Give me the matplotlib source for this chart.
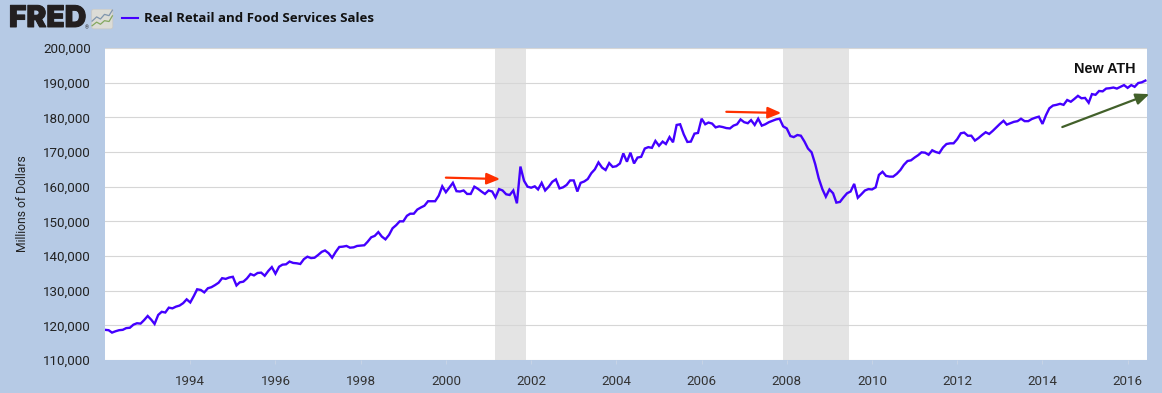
import numpy as np
import pandas as pd
import matplotlib
matplotlib.use('Agg')
import matplotlib.pyplot as plt
import matplotlib.dates as mdates
import matplotlib.patheffects as pe
from matplotlib.patches import FancyBboxPatch

# monthly values, billions of dollars
y1992 = [118.7, 118.6, 117.9, 118.3, 118.6, 118.7, 119.2, 119.3, 120.2, 120.6, 120.5, 121.5]
y1993 = [122.7, 121.6, 120.4, 123.0, 123.9, 123.7, 125.1, 124.9, 125.4, 125.7, 126.4, 127.5]
y1994 = [126.6, 128.5, 130.4, 130.2, 129.5, 130.7, 131.0, 131.6, 132.3, 133.6, 133.4, 133.8]
y1995 = [134.0, 131.5, 132.4, 132.6, 133.5, 134.8, 134.4, 135.1, 135.2, 134.3, 135.7, 136.8]
y1996 = [134.9, 136.9, 137.5, 137.6, 138.4, 138.0, 137.9, 137.7, 139.1, 139.8, 139.4, 139.5]
y1997 = [140.3, 141.2, 141.6, 140.8, 139.5, 141.2, 142.6, 142.7, 142.9, 142.4, 142.5, 142.9]
y1998 = [143.0, 143.1, 144.1, 145.4, 145.8, 146.9, 145.6, 144.8, 146.1, 148.0, 148.9, 150.0]
y1999 = [150.0, 151.6, 152.2, 152.2, 153.4, 154.0, 154.5, 155.8, 155.8, 155.8, 157.4, 160.1]
y2000 = [158.4, 159.8, 161.1, 158.7, 158.6, 158.9, 157.9, 157.9, 160.0, 159.4, 158.6, 157.9]
y2001 = [158.9, 158.6, 156.9, 159.3, 158.9, 157.8, 157.6, 158.9, 155.2, 165.8, 161.7, 160.0]
y2002 = [159.7, 160.1, 159.2, 161.1, 158.9, 160.0, 161.4, 162.1, 159.5, 159.8, 160.5, 161.8]
y2003 = [161.8, 158.6, 161.1, 161.5, 162.2, 163.9, 165.0, 167.0, 165.5, 164.8, 166.8, 165.7]
y2004 = [165.9, 166.7, 169.6, 167.2, 169.8, 166.7, 168.4, 168.6, 171.0, 171.4, 171.2, 173.2]
y2005 = [171.8, 173.0, 172.3, 174.3, 172.8, 177.8, 178.0, 175.1, 172.9, 173.0, 175.3, 175.5]
y2006 = [179.6, 178.0, 178.5, 178.2, 177.1, 177.4, 177.2, 176.9, 176.8, 177.6, 178.0, 179.4]
y2007 = [178.6, 178.3, 179.2, 177.8, 179.6, 177.6, 178.0, 178.6, 179.0, 179.4, 179.6, 177.4]
y2008 = [176.8, 174.6, 174.3, 174.9, 174.7, 173.0, 171.0, 169.9, 166.5, 162.4, 159.3, 157.1]
y2009 = [159.2, 158.1, 155.4, 155.6, 156.9, 158.1, 158.6, 160.8, 156.8, 157.8, 158.9, 159.3]
y2010 = [159.2, 159.8, 163.4, 164.3, 163.1, 162.9, 162.9, 163.7, 164.8, 166.3, 167.4, 167.6]
y2011 = [168.4, 169.1, 169.9, 169.8, 169.2, 170.5, 170.0, 169.7, 171.3, 172.3, 172.5, 172.5]
y2012 = [173.7, 175.4, 175.6, 174.7, 174.7, 173.3, 174.0, 174.9, 175.7, 175.2, 176.1, 177.1]
y2013 = [178.1, 179.0, 177.9, 178.3, 178.7, 178.9, 179.6, 178.9, 178.9, 179.5, 179.9, 180.2]
y2014 = [178.1, 180.7, 182.6, 183.4, 183.6, 183.9, 183.6, 185.0, 184.5, 185.3, 186.2, 185.5]
y2015 = [185.6, 184.2, 186.7, 186.5, 187.6, 187.5, 188.3, 188.4, 188.6, 188.3, 188.8, 189.3]
y2016 = [188.5, 189.3, 188.8, 189.9, 190.1, 190.6]

years = [y1992, y1993, y1994, y1995, y1996, y1997, y1998, y1999, y2000, y2001, y2002, y2003,
         y2004, y2005, y2006, y2007, y2008, y2009, y2010, y2011, y2012, y2013, y2014, y2015, y2016]
sales = np.concatenate(years) * 1000
dates = pd.date_range('1992-01-01', periods=len(sales), freq='MS')

recessions = [('2001-03-01', '2001-11-15'), ('2007-12-01', '2009-06-15')]
yticks = list(range(110000, 200001, 10000))
xtick_years = list(range(1994, 2017, 2))

red_arrows = [('2000-01-01', 162600, '2001-04-10', 162200), ('2006-08-01', 181600, '2007-11-15', 181250)]
green_arrow = ('2014-06-20', 177200, '2016-07-05', 186700)

bg = '#b6cae5'
line_col = '#4400ff'

plt.rcParams['font.family'] = ['Roboto', 'DejaVu Sans']

fig = plt.figure(figsize=(11.62, 3.93), dpi=100, facecolor=bg)
W, H = 1162, 393
ax = fig.add_axes([105 / W, 1 - 360 / H, (1147 - 105) / W, (360 - 48) / H])

for start, end in recessions:
    ax.axvspan(pd.Timestamp(start), pd.Timestamp(end), color='#e4e4e4', lw=0, zorder=1)

ax.plot(dates, sales, color=line_col, lw=1.7, zorder=3, solid_joinstyle='miter')

ax.set_xlim(pd.Timestamp('1992-01-01'), pd.Timestamp('2016-06-15'))
ax.set_ylim(110000, 200000)
ax.set_yticks(yticks)
ax.set_yticklabels([f'{v:,}' for v in yticks])
ax.set_xticks([pd.Timestamp(f'{y}-01-01') for y in xtick_years])
ax.xaxis.set_major_formatter(mdates.DateFormatter('%Y'))
ax.grid(axis='y', color='#d6d6d6', lw=0.8, zorder=2)
for s in ax.spines.values():
    s.set_visible(False)
ax.tick_params(axis='y', length=0, pad=10, labelsize=9.6, labelcolor='#222222')
ax.tick_params(axis='x', length=3, width=0.7, color='#c8d4e6', pad=8, labelsize=9.6, labelcolor='#333333')
ax.set_ylabel('Millions of Dollars', fontsize=8.7, color='#222222', va='center')
ax.yaxis.set_label_coords((23 - 105) / (1147 - 105), 0.5)

for x0, y0, x1, y1 in red_arrows:
    ax.annotate('', xy=(pd.Timestamp(x1), y1), xytext=(pd.Timestamp(x0), y0), zorder=5,
                arrowprops=dict(arrowstyle='-|>,head_length=0.8,head_width=0.34', color='#ff3000', lw=1.6,
                                shrinkA=0, shrinkB=0))
ax.annotate('', xy=(pd.Timestamp(green_arrow[2]), green_arrow[3]),
            xytext=(pd.Timestamp(green_arrow[0]), green_arrow[1]), zorder=5, annotation_clip=False,
            arrowprops=dict(arrowstyle='-|>,head_length=0.8,head_width=0.34', color='#42602a', lw=1.6,
                            shrinkA=0, shrinkB=0))
ax.text(pd.Timestamp('2015-06-15'), 193900, 'New ATH', ha='center', va='center',
        fontsize=10.4, fontweight='bold', family=['Liberation Sans'], color='#111111')

# header: logo, icon, legend
logo = fig.text(9 / W, 1 - 19 / H, 'FRED', fontsize=21.5, fontweight='black', family=['Inter'],
                color='#231f20', va='center', ha='left')
logo.set_path_effects([pe.withStroke(linewidth=0.7, foreground='#231f20')])
fig.text(84.5 / W, 1 - 27.5 / H, '®', fontsize=3.5, color='#231f20', va='center', ha='left')

icon = fig.add_axes([91 / W, 1 - 29.5 / H, 22.5 / W, 21 / H])
icon.set_axis_off()
icon.set_xlim(0, 1)
icon.set_ylim(0, 1)
icon.add_patch(FancyBboxPatch((0.03, 0.03), 0.94, 0.94, boxstyle='round,pad=0,rounding_size=0.1',
                              fc='#dcdcd6', ec='#c8c8c4', lw=0.5))
icon.plot([0.05, 0.25, 0.42, 0.6, 0.8, 0.95], [0.4, 0.6, 0.5, 0.72, 0.66, 0.92], color='#7f95ad', lw=0.9)
icon.plot([0.05, 0.25, 0.42, 0.6, 0.8, 0.95], [0.18, 0.35, 0.25, 0.42, 0.38, 0.65], color='#84a860', lw=0.9)

fig.add_artist(plt.Line2D([122 / W, 138 / W], [1 - 18 / H, 1 - 18 / H], color=line_col, lw=1.5))
fig.text(143.5 / W, 1 - 18 / H, 'Real Retail and Food Services Sales', fontsize=9.5, fontweight='bold',
         family=['Open Sans'], color='#111111', va='center', ha='left')

fig.savefig('out.png', dpi=100, facecolor=bg)
